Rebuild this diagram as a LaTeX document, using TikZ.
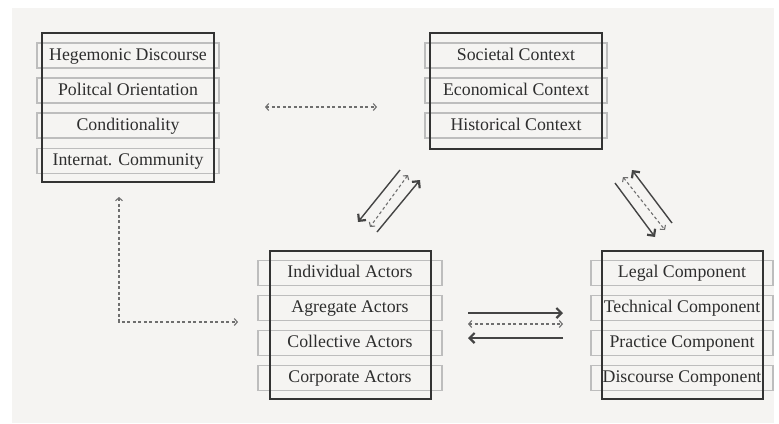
\documentclass[tikz,border=0pt]{standalone}
\usepackage{fontspec}
\setmainfont{Liberation Serif}
\usetikzlibrary{arrows.meta}
\definecolor{bgc}{HTML}{F5F4F2}
\definecolor{outc}{HTML}{333333}
\definecolor{inc}{HTML}{BDBDBD}
\definecolor{txtc}{HTML}{2E2E2E}
\definecolor{solc}{HTML}{444444}
\definecolor{dasc}{HTML}{6E6E6E}
\begin{document}
\begin{tikzpicture}[x=1bp,y=-1bp,
  row/.style={draw=inc,line width=1.2bp,minimum height=25bp,inner sep=0pt,text=txtc,
    text height=12.5bp,text depth=3.5bp,
    font=\fontsize{17.8bp}{20bp}\selectfont},
  outer/.style={draw=outc,line width=2bp,inner sep=0pt},
  sol/.style={draw=solc,line width=1.4bp,-{Straight Barb[length=5bp,width=10bp,line width=2.2bp]}},
  das/.style={draw=dasc,line width=1.1bp,dash pattern=on 3bp off 2.5bp,
    {Straight Barb[length=3bp,width=7bp]}-{Straight Barb[length=3bp,width=7bp]}}]
\useasboundingbox (0,0) rectangle (779,423);
\fill[white] (0,0) rectangle (779,423);
\fill[bgc] (12,8) rectangle (774,423);
% box 1
\node[row,minimum width=182bp] (hd) at (128,55.5) {Hegemonic Discourse};
\node[row,minimum width=182bp] (po) at (128,90.5) {Politcal Orientation};
\node[row,minimum width=182bp] (co) at (128,125.5) {Conditionality};
\node[row,minimum width=182bp] (ic) at (128,161) {Internat. Community};
\node[outer,minimum width=172bp,minimum height=149bp] (b1) at (128,107.5) {};
% box 2
\node[row,minimum width=182bp] (sc) at (516,55.5) {Societal Context};
\node[row,minimum width=182bp] (ec) at (516,90.5) {Economical Context};
\node[row,minimum width=182bp] (hc) at (516,125.5) {Historical Context};
\node[outer,minimum width=172bp,minimum height=116bp] (b2) at (516,91) {};
% box 3
\node[row,minimum width=184bp] (ia) at (350,273) {Individual Actors};
\node[row,minimum width=184bp] (aa) at (350,308) {Agregate Actors};
\node[row,minimum width=184bp] (ca) at (350,343) {Collective Actors};
\node[row,minimum width=184bp] (pa) at (350,378) {Corporate Actors};
\node[outer,minimum width=161bp,minimum height=148bp] (b3) at (350.5,325) {};
% box 4
\node[row,minimum width=182bp] (lc) at (682,273) {Legal Component};
\node[row,minimum width=182bp] (tc) at (682,308) {Technical Component};
\node[row,minimum width=182bp] (prc) at (682,343) {Practice Component};
\node[row,minimum width=182bp] (dc) at (682,378) {Discourse Component};
\node[outer,minimum width=161bp,minimum height=148bp] (b4) at (682.5,325) {};
% connector ends
\coordinate (t1) at (265,107); \coordinate (t2) at (377,107);
\coordinate (a1) at (400,170); \coordinate (a2) at (358,222);
\coordinate (a3) at (408,175); \coordinate (a4) at (370,227);
\coordinate (a5) at (377,232); \coordinate (a6) at (420,180);
\coordinate (c1) at (615,183); \coordinate (c2) at (655,237);
\coordinate (c3) at (672,223); \coordinate (c4) at (632,170);
\coordinate (c5) at (623,177); \coordinate (c6) at (665,230);
\coordinate (h1) at (468,313); \coordinate (h2) at (563,313);
\coordinate (h3) at (468,324); \coordinate (h4) at (563,324);
\coordinate (h5) at (563,338); \coordinate (h6) at (468,338);
\coordinate (l1) at (119,197); \coordinate (l2) at (119,322); \coordinate (l3) at (238,322);
% connectors
\draw[das] (t1) -- (t2);
\draw[sol] (a1) -- (a2);
\draw[das] (a3) -- (a4);
\draw[sol] (a5) -- (a6);
\draw[sol] (c1) -- (c2);
\draw[sol] (c3) -- (c4);
\draw[das] (c5) -- (c6);
\draw[sol] (h1) -- (h2);
\draw[das] (h3) -- (h4);
\draw[sol] (h5) -- (h6);
\draw[das] (l1) -- (l2) -- (l3);
\end{tikzpicture}
\end{document}
